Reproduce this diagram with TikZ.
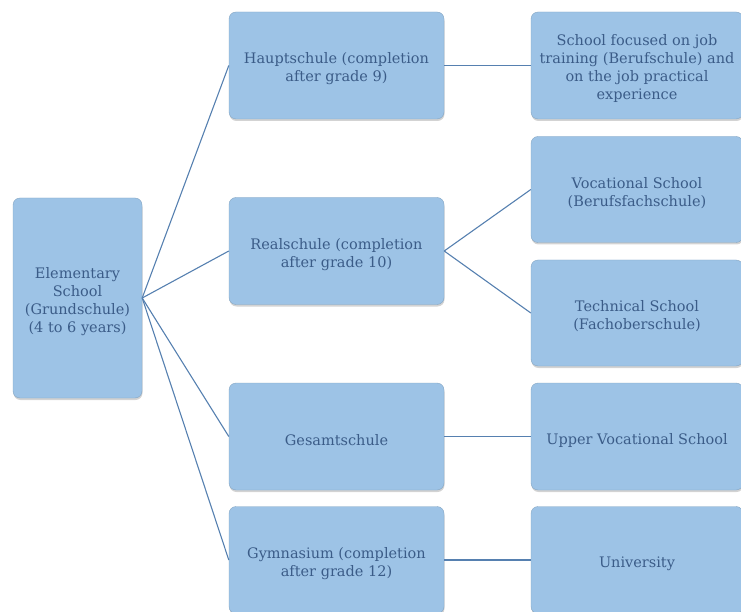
\documentclass[tikz,border=0pt]{standalone}
\usepackage{fontspec}
\setmainfont{DejaVu Serif}
\usetikzlibrary{shadows}
\definecolor{boxfill}{HTML}{9DC3E6}
\definecolor{boxtext}{HTML}{3B5C88}
\definecolor{linecol}{HTML}{5680B0}
\tikzset{
  box/.style={draw=boxfill!85!black, line width=0.4pt, fill=boxfill, rounded corners=7pt,
    inner sep=0pt,
    drop shadow={opacity=0.35, shadow xshift=0.5pt, shadow yshift=-2pt}},
  boxlabel/.style={text=boxtext, align=center, font=\fontsize{14.5}{18}\selectfont, yshift=-3.5pt, inner sep=0pt},
  link/.style={draw=linecol, line width=1.1pt}
}
\begin{document}
\begin{tikzpicture}[x=1pt,y=-1pt]
\useasboundingbox (0,0) rectangle (741,612);
\node[box, minimum width=129pt, minimum height=200pt, label={[boxlabel]center:{Elementary\\School\\(Grundschule)\\(4 to 6 years)}}] (elem) at (77.5,298) {};
\node[box, minimum width=215pt, minimum height=107pt, label={[boxlabel]center:{Hauptschule (completion\\after grade 9)}}] (haupt) at (336.5,65.5) {};
\node[box, minimum width=215pt, minimum height=107pt, label={[boxlabel]center:{Realschule (completion\\after grade 10)}}] (real) at (336.5,251) {};
\node[box, minimum width=215pt, minimum height=107pt, label={[boxlabel]center:{Gesamtschule}}] (gesamt) at (336.5,436.5) {};
\node[box, minimum width=215pt, minimum height=107pt, label={[boxlabel]center:{Gymnasium (completion\\after grade 12)}}] (gym) at (336.5,560) {};
\node[box, minimum width=212pt, minimum height=107pt, label={[boxlabel]center:{School focused on job\\training (Berufschule) and\\on the job practical\\experience}}] (beruf) at (637,65.5) {};
\node[box, minimum width=212pt, minimum height=106pt, label={[boxlabel]center:{Vocational School\\(Berufsfachschule)}}] (voc) at (637,189.5) {};
\node[box, minimum width=212pt, minimum height=106pt, label={[boxlabel]center:{Technical School\\(Fachoberschule)}}] (tech) at (637,313) {};
\node[box, minimum width=212pt, minimum height=107pt, label={[boxlabel]center:{Upper Vocational School}}] (upper) at (637,436.5) {};
\node[box, minimum width=212pt, minimum height=107pt, label={[boxlabel]center:{University}}] (uni) at (637,560) {};
\draw[link] (elem.east) -- (haupt.west);
\draw[link] (elem.east) -- (real.west);
\draw[link] (elem.east) -- (gesamt.west);
\draw[link] (elem.east) -- (gym.west);
\draw[link] (haupt.east) -- (beruf.west);
\draw[link] (real.east) -- (voc.west);
\draw[link] (real.east) -- (tech.west);
\draw[link] (gesamt.east) -- (upper.west);
\draw[link] (gym.east) -- (uni.west);
\end{tikzpicture}
\end{document}
